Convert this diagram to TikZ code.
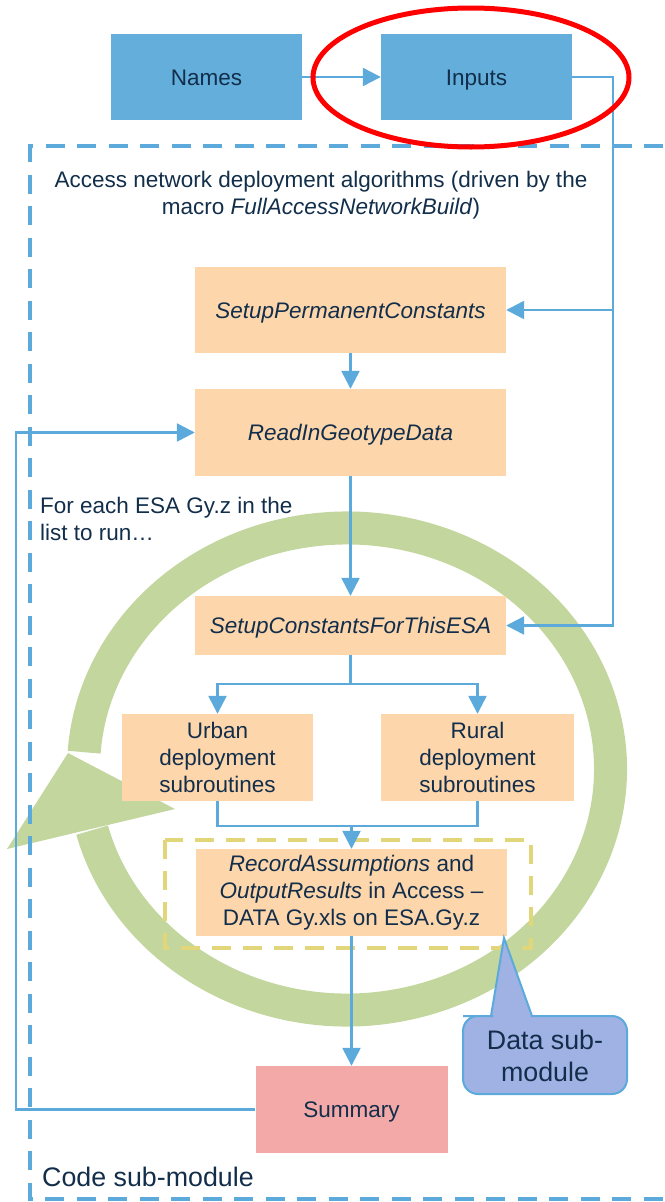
\documentclass[tikz,border=0pt]{standalone}
\usepackage{fontspec}
\setmainfont{Liberation Sans}
\usetikzlibrary{arrows.meta}

\definecolor{txt}{RGB}{18,46,74}
\definecolor{boxblue}{RGB}{99,174,219}
\definecolor{lineblue}{RGB}{92,170,220}
\definecolor{peach}{RGB}{253,214,172}
\definecolor{pink}{RGB}{243,169,168}
\definecolor{calloutfill}{RGB}{160,178,228}
\definecolor{ringgreen}{RGB}{194,214,157}
\definecolor{dashyellow}{RGB}{226,214,122}
\definecolor{markred}{RGB}{255,0,0}

\tikzset{
  box/.style={draw=none, inner sep=0pt, align=center, text=txt,
    font=\fontsize{22.5pt}{27pt}\selectfont},
  oneline/.style={text height=16pt, text depth=0pt},
  bluebox/.style={box, oneline, fill=boxblue, minimum width=191pt, minimum height=86pt},
  peachbox/.style={box, fill=peach},
  flow/.style={draw=lineblue, line width=2.4pt, -{Triangle[length=18pt,width=18pt]}},
  link/.style={draw=lineblue, line width=2.4pt},
  label/.style={inner sep=0pt, text=txt, font=\fontsize{22.5pt}{27pt}\selectfont},
  biglabel/.style={inner sep=0pt, text=txt, font=\fontsize{26.8pt}{32pt}\selectfont},
}

\begin{document}
\begin{tikzpicture}[x=1pt, y=-1pt]
\useasboundingbox (0,0) rectangle (664,1202);

% circular "repeat" arrow behind the loop body
\draw[ringgreen, line width=33pt, line cap=butt]
  (347,769) ++(165.3:263.5 and 241)
  arc[start angle=165.3, end angle=-176, x radius=263.5, y radius=241];
\fill[ringgreen] (68,753) -- (175,809) -- (7,849) -- cycle;

% data sub-module boundary
\draw[dashyellow, line width=4pt, dash pattern=on 19pt off 12pt]
  (165,840) rectangle (531,948);

% code sub-module boundary (runs off the right edge)
\draw[lineblue, line width=4pt, dash pattern=on 19pt off 12.5pt, dash phase=26pt]
  (700,146) -- (30,146) -- (30,1199) -- (700,1199);

% nodes
\node[bluebox] (names)  at (206.5,77) {Names};
\node[bluebox] (inputs) at (476.5,77) {Inputs};
\node[peachbox, oneline, minimum width=311pt, minimum height=86pt] (spc) at (350.5,310)
  {\textit{SetupPermanentConstants}};
\node[peachbox, oneline, minimum width=311pt, minimum height=87pt] (rigd) at (350.5,432.5)
  {\textit{ReadInGeotypeData}};
\node[peachbox, oneline, minimum width=311pt, minimum height=59pt] (scte) at (350.5,625.5)
  {\textit{SetupConstantsForThisESA}};
\node[peachbox, minimum width=191pt, minimum height=87pt] (urban) at (217.5,757.5)
  {Urban\\deployment\\subroutines};
\node[peachbox, minimum width=193pt, minimum height=87pt] (rural) at (477.5,757.5)
  {Rural\\deployment\\subroutines};
\node[peachbox, minimum width=311pt, minimum height=87pt] (rec) at (351.5,892.5)
  {\textit{RecordAssumptions} and\\\textit{OutputResults} in Access --\\DATA Gy.xls on ESA.Gy.z};
\node[box, oneline, fill=pink, minimum width=192pt, minimum height=87pt] (summary) at (351.5,1109.5)
  {Summary};

\node[label, align=center] (title) at (321,195.5)
  {Access network deployment algorithms (driven by the\\macro \textit{FullAccessNetworkBuild})};
\node[label, anchor=west, align=left] (loop) at (40,518.5)
  {For each ESA Gy.z in the\\list to run…};
\node[biglabel, anchor=west] (code) at (42,1177) {Code sub-module};

% connectors
\coordinate (bus) at (613,0);
\coordinate (loopx) at (16,0);
\coordinate (split) at (350.5,684);
\coordinate (merge) at (351.5,826);

\draw[flow] (names.east) -- (inputs.west);
\draw[flow] (inputs.east) -- (bus |- inputs.east) -- (bus |- scte.east) -- (scte.east);
\draw[flow] (bus |- spc.east) -- (spc.east);
\draw[flow] (spc.south) -- (rigd.north);
\draw[flow] (rigd.south) -- (scte.north);
\draw[link] (scte.south) -- (split);
\draw[flow] (split) -| (urban.north);
\draw[flow] (split) -| (rural.north);
\draw[link] (urban.south) |- (merge) -| (rural.south);
\draw[flow] (merge) -- (rec.north);
\draw[flow] (rec.south) -- (summary.north);
\draw[flow] (summary.west) -- (loopx |- summary.west) -- (loopx |- rigd.west) -- (rigd.west);

% data sub-module callout
\filldraw[fill=calloutfill, draw=lineblue, line width=2pt]
  (504,938) -- (532,1016) -- (560,1016) [rounded corners=15pt]
  -- (627,1016) -- (627,1094) -- (463,1094) -- (463,1016) -- (478,1016)
  [sharp corners] -- (491,1016) -- cycle;
\node[biglabel, align=center] (data) at (545,1056) {Data sub-\\module};

% highlight around the inputs
\draw[markred, line width=5pt] (471,77.5) ellipse [x radius=158, y radius=69.5];

\end{tikzpicture}
\end{document}
